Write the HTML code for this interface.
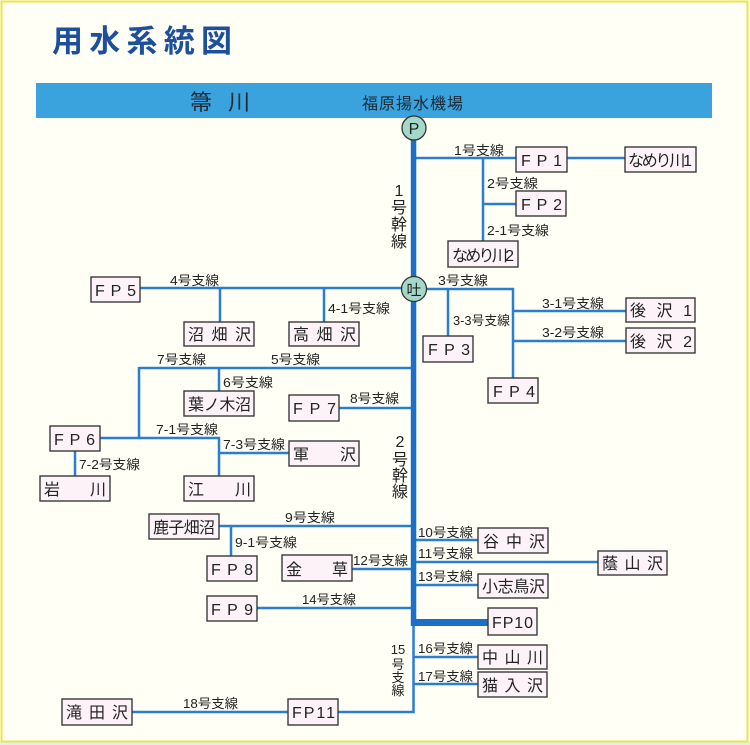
<!DOCTYPE html>
<html><head><meta charset="utf-8">
<style>
html,body{margin:0;padding:0;background:#fffff6;}
svg{display:block;}
text{font-family:"Liberation Sans","Noto Sans CJK JP",sans-serif;fill:#222;}
.lb{font-size:13px;}
.bx{font-size:16px;}
</style></head><body>
<svg width="750" height="745" viewBox="0 0 750 745" xmlns="http://www.w3.org/2000/svg">
<rect x="0" y="0" width="750" height="745" fill="#fffff6"/>
<rect x="0" y="742" width="750" height="3" fill="#dff1ef"/>
<rect x="1.5" y="1.5" width="746" height="740" fill="none" stroke="#ece544" stroke-width="2"/>

<!-- title -->
<text x="52" y="52" font-size="31" font-weight="bold" style="fill:#1d4f9c" textLength="180" lengthAdjust="spacing">用水系統図</text>

<!-- river bar -->
<rect x="36" y="83" width="676" height="35" fill="#3aa2dc"/>
<text x="190" y="110" font-size="22" style="fill:#1b2a36" textLength="60" lengthAdjust="spacing">箒 川</text>
<text x="362" y="109" font-size="16" style="fill:#1b2a36" textLength="101" lengthAdjust="spacing">福原揚水機場</text>

<!-- branch lines -->
<g stroke="#2a7ed2" stroke-width="2.5" fill="none">
 <!-- 1号 -->
 <line x1="413" y1="158" x2="516" y2="158"/>
 <line x1="567" y1="158" x2="625" y2="158"/>
 <line x1="483" y1="158" x2="483" y2="241"/>
 <line x1="483" y1="204" x2="516" y2="204"/>
 <!-- 3号 -->
 <polyline points="413,289 513,289 513,378"/>
 <line x1="448" y1="289" x2="448" y2="336"/>
 <line x1="513" y1="311" x2="626" y2="311"/>
 <line x1="513" y1="341" x2="626" y2="341"/>
 <!-- 4号 -->
 <line x1="140" y1="288" x2="413" y2="288"/>
 <line x1="220" y1="288" x2="220" y2="322"/>
 <line x1="324" y1="288" x2="324" y2="322"/>
 <!-- 5/7号 -->
 <line x1="139" y1="368" x2="413" y2="368"/>
 <line x1="139" y1="367" x2="139" y2="439"/>
 <line x1="219" y1="368" x2="219" y2="391"/>
 <polyline points="100,438 219,438 219,476"/>
 <line x1="219" y1="453" x2="289" y2="453"/>
 <line x1="75" y1="451" x2="75" y2="476"/>
 <!-- 8号 -->
 <line x1="339" y1="408" x2="413" y2="408"/>
 <!-- 9号 -->
 <line x1="219" y1="526" x2="413" y2="526"/>
 <line x1="231" y1="526" x2="231" y2="556"/>
 <!-- 12号 -->
 <line x1="352" y1="569" x2="413" y2="569"/>
 <!-- 14号 -->
 <line x1="257" y1="608" x2="413" y2="608"/>
 <!-- right side -->
 <line x1="413" y1="540" x2="478" y2="540"/>
 <line x1="413" y1="562" x2="598" y2="562"/>
 <line x1="413" y1="585" x2="478" y2="585"/>
 <line x1="413" y1="657" x2="478" y2="657"/>
 <line x1="413" y1="684" x2="478" y2="684"/>
 <!-- 15/18号 -->
 <polyline points="413.5,626 413.5,712 338,712"/>
 <line x1="288" y1="712" x2="132" y2="712"/>
</g>

<!-- trunk -->
<rect x="410.8" y="138" width="5.5" height="488" fill="#1b6fc6"/>
<rect x="412" y="619" width="77" height="7" fill="#1b6fc6"/>

<!-- circles -->
<circle cx="414" cy="128" r="12" fill="#a4d8c8" stroke="#333" stroke-width="1.3"/>
<text x="414" y="134" font-size="16" text-anchor="middle">P</text>
<circle cx="414" cy="289" r="12.5" fill="#a4d8c8" stroke="#333" stroke-width="1.3"/>
<text x="414" y="295" font-size="15" text-anchor="middle">吐</text>

<!-- boxes -->
<g fill="#fcf2f7" stroke="#3a3a3a" stroke-width="1.4">
 <rect x="516" y="147" width="51" height="25"/>
 <rect x="625" y="147" width="71" height="25"/>
 <rect x="516" y="191" width="50" height="25"/>
 <rect x="448" y="241" width="70" height="26"/>
 <rect x="423" y="336" width="50" height="26"/>
 <rect x="626" y="298" width="69" height="24"/>
 <rect x="626" y="328" width="69" height="25"/>
 <rect x="488" y="378" width="50" height="25"/>
 <rect x="91" y="277" width="49" height="25"/>
 <rect x="184" y="322" width="70" height="24"/>
 <rect x="289" y="322" width="70" height="24"/>
 <rect x="184" y="391" width="70" height="25"/>
 <rect x="289" y="395" width="50" height="26"/>
 <rect x="50" y="426" width="50" height="25"/>
 <rect x="289" y="441" width="70" height="25"/>
 <rect x="40" y="476" width="70" height="25"/>
 <rect x="184" y="476" width="70" height="25"/>
 <rect x="149" y="514" width="70" height="25"/>
 <rect x="207" y="556" width="50" height="25"/>
 <rect x="282" y="555" width="70" height="26"/>
 <rect x="207" y="596" width="50" height="25"/>
 <rect x="478" y="528" width="70" height="25"/>
 <rect x="598" y="551" width="69" height="24"/>
 <rect x="478" y="574" width="70" height="24"/>
 <rect x="488" y="608" width="49" height="27"/>
 <rect x="478" y="645" width="69" height="24"/>
 <rect x="478" y="672" width="69" height="25"/>
 <rect x="62" y="699" width="70" height="26"/>
 <rect x="288" y="699" width="50" height="26"/>
</g>

<!-- box texts -->
<g class="bx">
 <text class="bx" x="521" y="166" textLength="41" lengthAdjust="spacing">FP1</text>
 <text class="bx" x="628" y="166" font-size="15" textLength="64" lengthAdjust="spacing">なめり川1</text>
 <text class="bx" x="521" y="210" textLength="41" lengthAdjust="spacing">FP2</text>
 <text class="bx" x="452" y="261" font-size="15" textLength="62" lengthAdjust="spacing">なめり川2</text>
 <text class="bx" x="428" y="355" textLength="42" lengthAdjust="spacing">FP3</text>
 <text class="bx" x="630" y="316" textLength="62" lengthAdjust="spacing">後 沢 1</text>
 <text class="bx" x="630" y="347" textLength="62" lengthAdjust="spacing">後 沢 2</text>
 <text class="bx" x="493" y="397" textLength="42" lengthAdjust="spacing">FP4</text>
 <text class="bx" x="95" y="296" textLength="41" lengthAdjust="spacing">FP5</text>
 <text class="bx" x="188" y="340" textLength="63" lengthAdjust="spacing">沼 畑 沢</text>
 <text class="bx" x="293" y="340" textLength="63" lengthAdjust="spacing">高 畑 沢</text>
 <text class="bx" x="188" y="410" textLength="63" lengthAdjust="spacing">葉ノ木沼</text>
 <text class="bx" x="293" y="414" textLength="43" lengthAdjust="spacing">FP7</text>
 <text class="bx" x="54" y="445" textLength="41" lengthAdjust="spacing">FP6</text>
 <text class="bx" x="293" y="460" textLength="63" lengthAdjust="spacing">軍　　沢</text>
 <text class="bx" x="44" y="495" textLength="62" lengthAdjust="spacing">岩　　川</text>
 <text class="bx" x="188" y="495" textLength="63" lengthAdjust="spacing">江　　川</text>
 <text class="bx" x="153" y="533" textLength="62" lengthAdjust="spacing">鹿子畑沼</text>
 <text class="bx" x="211" y="575" textLength="42" lengthAdjust="spacing">FP8</text>
 <text class="bx" x="286" y="575" textLength="62" lengthAdjust="spacing">金　　草</text>
 <text class="bx" x="211" y="615" textLength="42" lengthAdjust="spacing">FP9</text>
 <text class="bx" x="483" y="547" textLength="62" lengthAdjust="spacing">谷 中 沢</text>
 <text class="bx" x="602" y="569" textLength="61" lengthAdjust="spacing">蔭 山 沢</text>
 <text class="bx" x="482" y="592" textLength="63" lengthAdjust="spacing">小志鳥沢</text>
 <text class="bx" x="492" y="628" textLength="41" lengthAdjust="spacing">FP10</text>
 <text class="bx" x="482" y="663" textLength="61" lengthAdjust="spacing">中 山 川</text>
 <text class="bx" x="482" y="691" textLength="61" lengthAdjust="spacing">猫 入 沢</text>
 <text class="bx" x="66" y="718" textLength="62" lengthAdjust="spacing">滝 田 沢</text>
 <text class="bx" x="292" y="718" textLength="43" lengthAdjust="spacing">FP11</text>
</g>

<!-- branch labels -->
<g>
 <text class="lb" x="454" y="155" textLength="50" lengthAdjust="spacingAndGlyphs">1号支線</text>
 <text class="lb" x="487" y="188" textLength="51" lengthAdjust="spacingAndGlyphs">2号支線</text>
 <text class="lb" x="487" y="235" textLength="62" lengthAdjust="spacingAndGlyphs">2-1号支線</text>
 <text class="lb" x="438" y="285" textLength="50" lengthAdjust="spacingAndGlyphs">3号支線</text>
 <text class="lb" x="453" y="325" textLength="57" lengthAdjust="spacingAndGlyphs">3-3号支線</text>
 <text class="lb" x="542" y="308" textLength="62" lengthAdjust="spacingAndGlyphs">3-1号支線</text>
 <text class="lb" x="542" y="337" textLength="62" lengthAdjust="spacingAndGlyphs">3-2号支線</text>
 <text class="lb" x="170" y="285" textLength="49" lengthAdjust="spacingAndGlyphs">4号支線</text>
 <text class="lb" x="328" y="313" textLength="62" lengthAdjust="spacingAndGlyphs">4-1号支線</text>
 <text class="lb" x="157" y="364" textLength="49" lengthAdjust="spacingAndGlyphs">7号支線</text>
 <text class="lb" x="271" y="364" textLength="49" lengthAdjust="spacingAndGlyphs">5号支線</text>
 <text class="lb" x="223" y="387" textLength="50" lengthAdjust="spacingAndGlyphs">6号支線</text>
 <text class="lb" x="350" y="403" textLength="49" lengthAdjust="spacingAndGlyphs">8号支線</text>
 <text class="lb" x="156" y="434" textLength="62" lengthAdjust="spacingAndGlyphs">7-1号支線</text>
 <text class="lb" x="223" y="449" textLength="62" lengthAdjust="spacingAndGlyphs">7-3号支線</text>
 <text class="lb" x="79" y="469" textLength="61" lengthAdjust="spacingAndGlyphs">7-2号支線</text>
 <text class="lb" x="285" y="522" textLength="50" lengthAdjust="spacingAndGlyphs">9号支線</text>
 <text class="lb" x="235" y="547" textLength="62" lengthAdjust="spacingAndGlyphs">9-1号支線</text>
 <text class="lb" x="353" y="565" textLength="55" lengthAdjust="spacingAndGlyphs">12号支線</text>
 <text class="lb" x="302" y="604" textLength="54" lengthAdjust="spacingAndGlyphs">14号支線</text>
 <text class="lb" x="418" y="537" textLength="55" lengthAdjust="spacingAndGlyphs">10号支線</text>
 <text class="lb" x="418" y="558" textLength="55" lengthAdjust="spacingAndGlyphs">11号支線</text>
 <text class="lb" x="418" y="581" textLength="55" lengthAdjust="spacingAndGlyphs">13号支線</text>
 <text class="lb" x="418" y="653" textLength="55" lengthAdjust="spacingAndGlyphs">16号支線</text>
 <text class="lb" x="418" y="681" textLength="55" lengthAdjust="spacingAndGlyphs">17号支線</text>
 <text class="lb" x="183" y="708" textLength="55" lengthAdjust="spacingAndGlyphs">18号支線</text>
</g>

<!-- vertical labels -->
<g font-size="16" text-anchor="middle">
 <text x="399" y="196">1</text>
 <text x="399" y="213">号</text>
 <text x="399" y="230">幹</text>
 <text x="399" y="247">線</text>
 <text x="400" y="447">2</text>
 <text x="400" y="465">号</text>
 <text x="400" y="481">幹</text>
 <text x="400" y="497">線</text>
</g>
<g font-size="13" text-anchor="middle">
 <text x="398" y="654">15</text>
 <text x="398" y="669">号</text>
 <text x="398" y="682">支</text>
 <text x="398" y="695">線</text>
</g>
</svg>
</body></html>
